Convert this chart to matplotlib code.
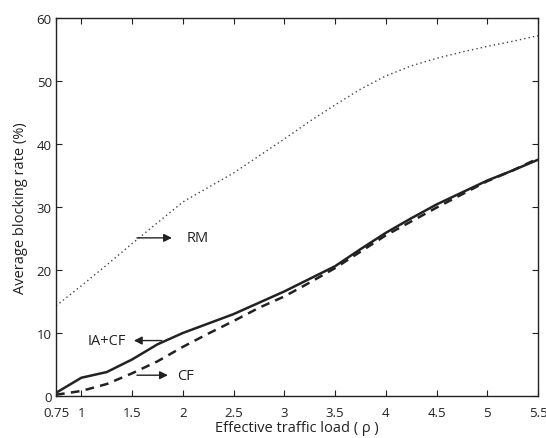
import numpy as np
import matplotlib.pyplot as plt

plt.rcParams['font.family'] = ['Open Sans', 'DejaVu Sans']

# Data
load = [0.75, 1.0, 1.25, 1.5, 1.75, 2.0, 2.25, 2.5, 2.75, 3.0, 3.25, 3.5,
        3.75, 4.0, 4.25, 4.5, 4.75, 5.0, 5.25, 5.5]
rm = [14.3, 17.5, 20.8, 24.2, 27.5, 30.8, 33.1, 35.4, 38.1, 40.8, 43.6, 46.2,
      48.7, 50.8, 52.4, 53.6, 54.6, 55.5, 56.3, 57.2]
ia_cf = [0.5, 2.9, 3.8, 5.8, 8.2, 10.0, 11.5, 13.0, 14.8, 16.6, 18.6, 20.6,
         23.3, 25.9, 28.2, 30.4, 32.3, 34.2, 35.8, 37.5]
cf = [0.2, 0.8, 1.9, 3.6, 5.5, 7.8, 9.9, 11.9, 14.0, 15.8, 18.0, 20.3,
      22.9, 25.5, 27.7, 29.9, 32.0, 34.1, 35.8, 37.7]

xticks = [0.75, 1, 1.5, 2, 2.5, 3, 3.5, 4, 4.5, 5, 5.5]
xticklabels = ['0.75', '1', '1.5', '2', '2.5', '3', '3.5', '4', '4.5', '5', '5.5']
yticks = [0, 10, 20, 30, 40, 50, 60]

fig = plt.figure(figsize=(5.46, 4.39), dpi=100)
ax = fig.add_axes([56/546, 1 - 397/439, 482/546, 378/439])

ax.plot(load, rm, color='#444444', linestyle=(0, (1, 2.2)), linewidth=1.0)
ax.plot(load, ia_cf, color='#222222', linestyle='-', linewidth=1.8)
ax.plot(load, cf, color='#222222', linestyle=(0, (3.5, 2.5)), linewidth=1.8)

arrow = dict(arrowstyle='-|>', color='#222222', lw=1.0, mutation_scale=12)
ax.annotate('', xy=(1.92, 25.1), xytext=(1.52, 25.1), arrowprops=arrow)
ax.text(2.04, 25.1, 'RM', fontsize=10.5, va='center', ha='left', color='#222222')
ax.annotate('', xy=(1.49, 8.8), xytext=(1.82, 8.8), arrowprops=arrow)
ax.text(1.44, 8.8, 'IA+CF', fontsize=10.5, va='center', ha='right', color='#222222')
ax.annotate('', xy=(1.88, 3.3), xytext=(1.52, 3.3), arrowprops=arrow)
ax.text(1.94, 3.3, 'CF', fontsize=10.5, va='center', ha='left', color='#222222')

ax.set_xlim(0.75, 5.5)
ax.set_ylim(0, 60)
ax.set_xticks(xticks)
ax.set_xticklabels(xticklabels)
ax.set_yticks(yticks)
ax.tick_params(direction='in', top=True, right=True, length=4, width=0.8,
               labelsize=9.5, colors='#222222')
ax.tick_params(axis='x', pad=7)
ax.tick_params(axis='y', pad=3)
for s in ax.spines.values():
    s.set_linewidth(1.0)
    s.set_color('#222222')

ax.set_xlabel('Effective traffic load ( ρ )', fontsize=10.5, labelpad=1, color='#222222')
ax.set_ylabel('Average blocking rate (%)', fontsize=10.5, labelpad=6, color='#222222')

fig.savefig('out.png', dpi=100)
